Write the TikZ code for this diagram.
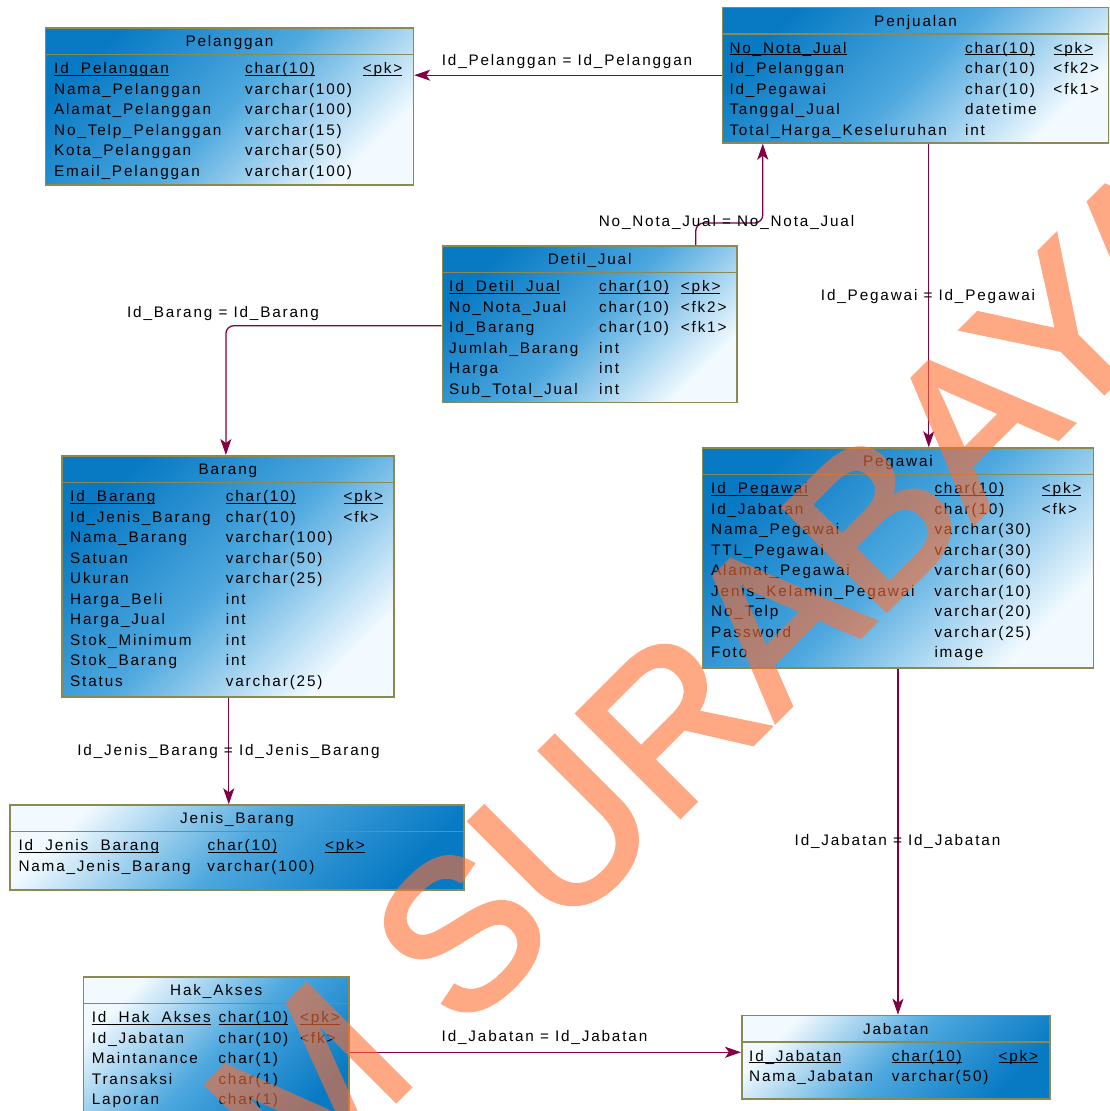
\documentclass[tikz,border=0pt]{standalone}
\usepackage{fontspec}
\setmainfont{Liberation Sans}[LetterSpace=12]
\newfontfamily\wmfont{Liberation Sans}[FakeBold=2.5]
\usetikzlibrary{arrows.meta}

\definecolor{tblborder}{RGB}{138,138,84}
\definecolor{tbldark}{RGB}{8,122,196}
\definecolor{tblmid}{RGB}{78,168,222}
\definecolor{tbllight}{RGB}{242,250,255}
\definecolor{relcol}{RGB}{130,0,68}
\definecolor{wmcol}{RGB}{255,110,50}

% underlined key cell (primary key rows)
\newcommand\ukey[1]{\underline{\smash{#1}}}
% column block of a table: name column, type column, key column
\newcommand\tblcols[3]{\begin{tabular}[t]{@{}p{#1pt}@{}p{#2pt}@{}l@{}}#3\end{tabular}}
% frame, title and header rule of an entity table
\newcommand\erdtable[7]{%
  \node[tbl={#4pt}{#5pt}, #6] (#1) at (#2,#3) {};
  \node[title] (#1-title) at ([yshift=-19.5pt]#1.north) {#7};
  \draw[sepline] ([yshift=-27.3pt]#1.north west) -- ([yshift=-27.3pt]#1.north east);
}

\tikzset{
  txt/.style={font=\fontsize{15.3}{20.5}\selectfont, inner sep=0pt, text=black},
  tbl/.style 2 args={draw=tblborder, line width=1.5pt, minimum width=#1,
    minimum height=#2, inner sep=0pt, anchor=north west},
  darkfirst/.style={top color=tbldark, bottom color=tbllight, middle color=tblmid, shading angle=45},
  lightfirst/.style={top color=tbllight, bottom color=tbldark, middle color=tblmid, shading angle=45},
  sepline/.style={draw=tblborder, line width=1.5pt},
  title/.style={txt, anchor=base},
  cols/.style={txt, anchor=base west},
  rellabel/.style={txt, anchor=base},
  rel/.style={draw=relcol, line width=1.3pt,
    -{Stealth[length=16pt,width=11pt,inset=4pt]}},
}

\begin{document}
\begin{tikzpicture}[x=1pt, y=-1pt]
\useasboundingbox (0,0) rectangle (1109,1111);
\clip (0,0) rectangle (1109,1111);
\fill[white] (0,0) rectangle (1109,1111);

% ---------------- tables ----------------
\erdtable{pelanggan}{44.7}{27}{368}{157}{darkfirst}{Pelanggan}
\node[cols] (pelanggan-cols) at ([xshift=9.3pt, yshift=-46.5pt]pelanggan.north west)
  {\tblcols{191}{117.7}{%
   \ukey{Id\_Pelanggan} & \ukey{char(10)} & \ukey{<pk>}\\
   Nama\_Pelanggan & varchar(100) & \\
   Alamat\_Pelanggan & varchar(100) & \\
   No\_Telp\_Pelanggan & varchar(15) & \\
   Kota\_Pelanggan & varchar(50) & \\
   Email\_Pelanggan & varchar(100) & \\}};

\erdtable{penjualan}{721.7}{6.7}{386.3}{135.5}{darkfirst}{Penjualan}
\node[cols] (penjualan-cols) at ([xshift=7.6pt, yshift=-46.5pt]penjualan.north west)
  {\tblcols{235.7}{88.3}{%
   \ukey{No\_Nota\_Jual} & \ukey{char(10)} & \ukey{<pk>}\\
   Id\_Pelanggan & char(10) & <fk2>\\
   Id\_Pegawai & char(10) & <fk1>\\
   Tanggal\_Jual & datetime & \\
   Total\_Harga\_Keseluruhan & int & \\}};

\erdtable{detil}{441.7}{245}{294.3}{156.7}{darkfirst}{Detil\_Jual}
\node[cols] (detil-cols) at ([xshift=7.3pt, yshift=-46.5pt]detil.north west)
  {\tblcols{150}{81.7}{%
   \ukey{Id\_Detil\_Jual} & \ukey{char(10)} & \ukey{<pk>}\\
   No\_Nota\_Jual & char(10) & <fk2>\\
   Id\_Barang & char(10) & <fk1>\\
   Jumlah\_Barang & int & \\
   Harga & int & \\
   Sub\_Total\_Jual & int & \\}};

\erdtable{barang}{61}{455}{332.3}{241}{darkfirst}{Barang}
\node[cols] (barang-cols) at ([xshift=9pt, yshift=-46.5pt]barang.north west)
  {\tblcols{155.7}{117.6}{%
   \ukey{Id\_Barang} & \ukey{char(10)} & \ukey{<pk>}\\
   Id\_Jenis\_Barang & char(10) & <fk>\\
   Nama\_Barang & varchar(100) & \\
   Satuan & varchar(50) & \\
   Ukuran & varchar(25) & \\
   Harga\_Beli & int & \\
   Harga\_Jual & int & \\
   Stok\_Minimum & int & \\
   Stok\_Barang & int & \\
   Status & varchar(25) & \\}};

\erdtable{pegawai}{701.7}{447.3}{391}{220}{darkfirst}{Pegawai}
\node[cols] (pegawai-cols) at ([xshift=9.3pt, yshift=-46.5pt]pegawai.north west)
  {\tblcols{223.3}{107.4}{%
   \ukey{Id\_Pegawai} & \ukey{char(10)} & \ukey{<pk>}\\
   Id\_Jabatan & char(10) & <fk>\\
   Nama\_Pegawai & varchar(30) & \\
   TTL\_Pegawai & varchar(30) & \\
   Alamat\_Pegawai & varchar(60) & \\
   Jenis\_Kelamin\_Pegawai & varchar(10) & \\
   No\_Telp & varchar(20) & \\
   Password & varchar(25) & \\
   Foto & image & \\}};

\erdtable{jenis}{9.3}{804.3}{454}{85}{lightfirst}{Jenis\_Barang}
\node[cols] (jenis-cols) at ([xshift=9pt, yshift=-46.5pt]jenis.north west)
  {\tblcols{189}{117.7}{%
   \ukey{Id\_Jenis\_Barang} & \ukey{char(10)} & \ukey{<pk>}\\
   Nama\_Jenis\_Barang & varchar(100) & \\}};

\erdtable{hakakses}{82.7}{976}{265.6}{150}{lightfirst}{Hak\_Akses}
\node[cols] (hakakses-cols) at ([xshift=9pt, yshift=-46.5pt]hakakses.north west)
  {\tblcols{126.6}{81.7}{%
   \ukey{Id\_Hak\_Akses} & \ukey{char(10)} & \ukey{<pk>}\\
   Id\_Jabatan & char(10) & <fk>\\
   Maintanance & char(1) & \\
   Transaksi & char(1) & \\
   Laporan & char(1) & \\}};

\erdtable{jabatan}{741}{1014.7}{308}{83.6}{lightfirst}{Jabatan}
\node[cols] (jabatan-cols) at ([xshift=8pt, yshift=-46.5pt]jabatan.north west)
  {\tblcols{142.7}{106.6}{%
   \ukey{Id\_Jabatan} & \ukey{char(10)} & \ukey{<pk>}\\
   Nama\_Jabatan & varchar(50) & \\}};

% ---------------- relationships ----------------
\coordinate (dj-out) at ([xshift=106.15pt]detil.north);
\coordinate (pj-in)  at ([xshift=-152.85pt]penjualan.south);
\coordinate (dj-left) at ([yshift=-1.6pt]detil.west);
\coordinate (br-in)  at ([xshift=-2pt]barang.north);
\coordinate (pj-out) at ([xshift=13.15pt]penjualan.south);
\coordinate (br-out) at ([xshift=0.85pt]barang.south);
\coordinate (jb-in)  at ([yshift=5pt]jabatan.west);

\draw[rel] (penjualan.west) -- (penjualan.west -| pelanggan.east);
\draw[rel, rounded corners=8pt] (dj-out) -- ++(0,-22) -| (pj-in);
\draw[rel, rounded corners=8pt] (dj-left) -| (br-in);
\draw[rel] (pj-out) -- (pj-out |- pegawai.north);
\draw[rel] (br-out) -- (br-out |- jenis.north);
\draw[rel] (pegawai.south) -- (pegawai.south |- jabatan.north);
\draw[rel] (hakakses.east |- jb-in) -- (jb-in);

\node[rellabel] (l-pelanggan) at (567,65) {Id\_Pelanggan = Id\_Pelanggan};
\node[rellabel] (l-nota) at (726.5,226) {No\_Nota\_Jual = No\_Nota\_Jual};
\node[rellabel] (l-barang) at (223,317.5) {Id\_Barang = Id\_Barang};
\node[rellabel] (l-pegawai) at (928,300.5) {Id\_Pegawai = Id\_Pegawai};
\node[rellabel] (l-jenis) at (228.5,755.5) {Id\_Jenis\_Barang = Id\_Jenis\_Barang};
\node[rellabel] (l-jabatan1) at (897.5,845.5) {Id\_Jabatan = Id\_Jabatan};
\node[rellabel] (l-jabatan2) at (544.5,1041.5) {Id\_Jabatan = Id\_Jabatan};

% ---------------- watermark ----------------
\begin{scope}[transparency group, opacity=0.6]
\node[rotate=45, inner sep=0pt, text=wmcol,
  font=\wmfont\fontsize{210}{210}\selectfont] (watermark) at (722,672) {M SURABAYA};
\end{scope}
\end{tikzpicture}
\end{document}
